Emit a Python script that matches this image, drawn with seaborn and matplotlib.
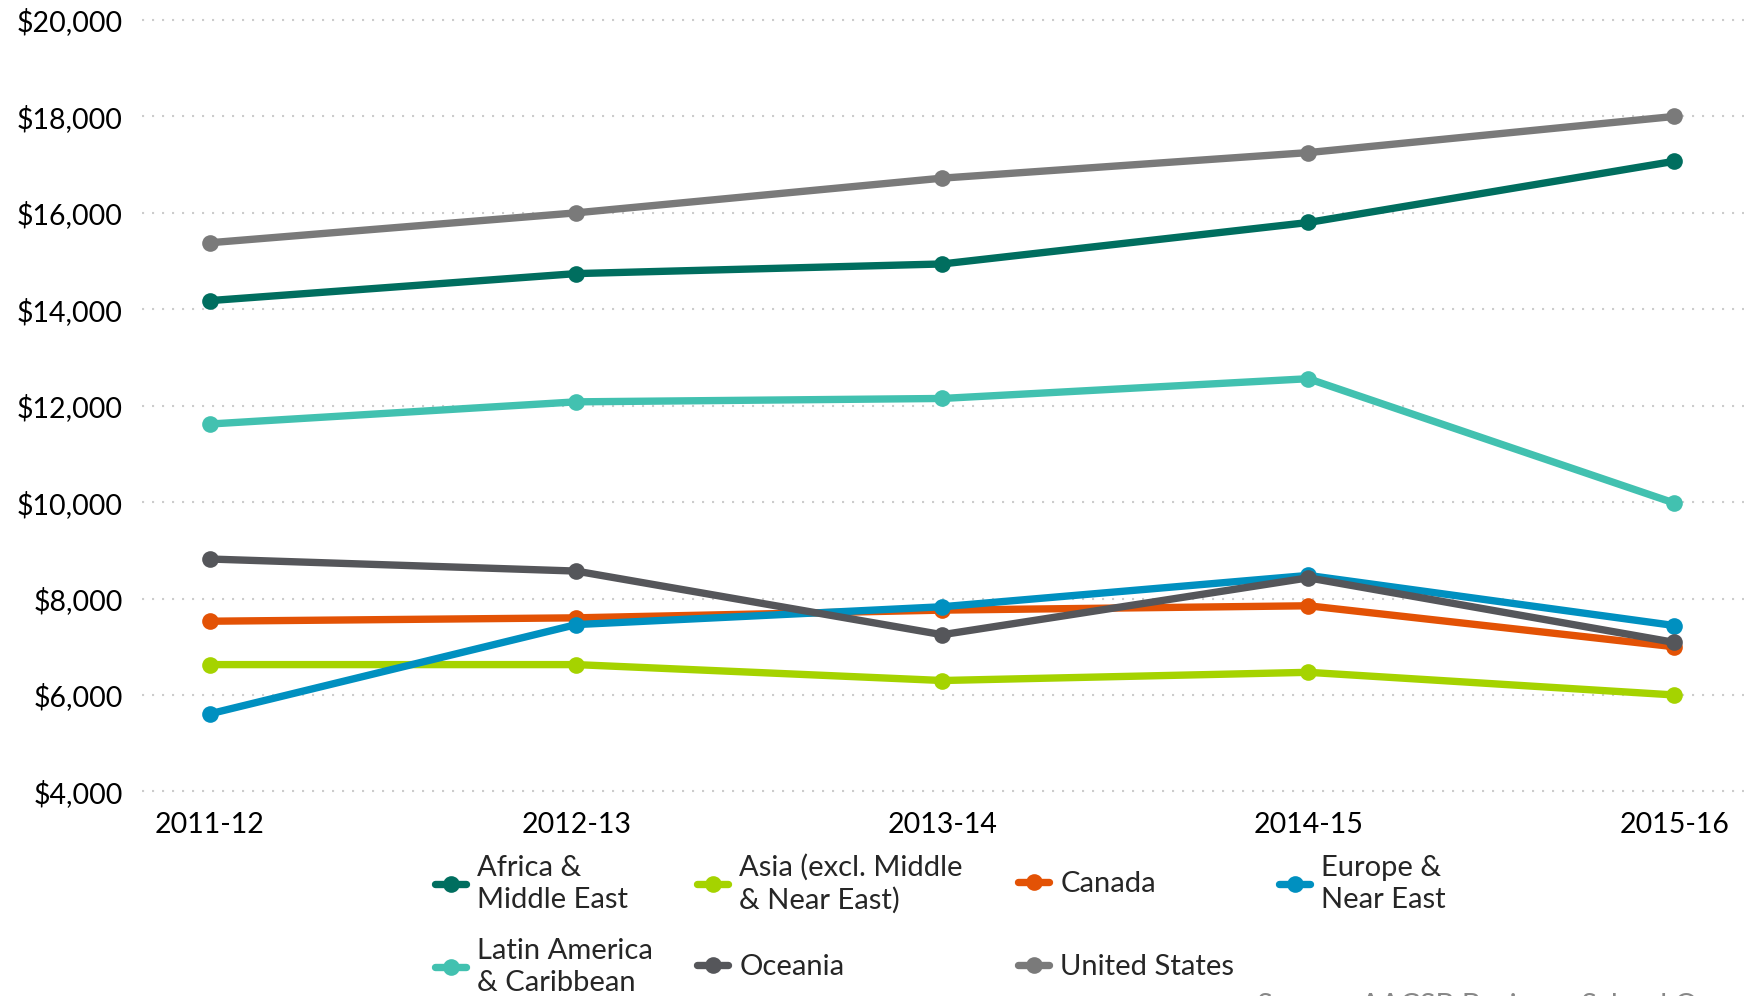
import matplotlib
matplotlib.use("Agg")
import matplotlib.pyplot as plt
from matplotlib.lines import Line2D
from matplotlib.ticker import StrMethodFormatter
import pandas as pd
import seaborn as sns

sns.set_style("white")
plt.rcParams["font.family"] = ["Lato", "DejaVu Sans"]

years = ["2011-12", "2012-13", "2013-14", "2014-15", "2015-16"]

africa = [14180, 14740, 14940, 15800, 17070]
asia = [6630, 6630, 6300, 6470, 6000]
canada = [7530, 7600, 7760, 7850, 7000]
europe = [5610, 7460, 7830, 8480, 7440]
latin = [11620, 12080, 12150, 12560, 9980]
oceania = [8820, 8570, 7250, 8430, 7090]
us = [15380, 16000, 16720, 17250, 18000]

regions = ["Africa & Middle East", "Asia (excl. Middle & Near East)", "Canada",
           "Europe & Near East", "Latin America & Caribbean", "Oceania", "United States"]
labels = ["Africa &\nMiddle East", "Asia (excl. Middle\n& Near East)", "Canada",
          "Europe &\nNear East", "Latin America\n& Caribbean", "Oceania", "United States"]
colors = ["#006e5f", "#a5d300", "#e35205", "#0090c0", "#42c1b0", "#55565a", "#7a7a7a"]
palette = dict(zip(regions, colors))

frames = []
for name, vals in zip(regions, [africa, asia, canada, europe, latin, oceania, us]):
    frames.append(pd.DataFrame({"Year": years, "Tuition": vals, "Region": name}))
data = pd.concat(frames, ignore_index=True)

fig = plt.figure(figsize=(17.44, 9.96), dpi=100)
ax = fig.add_axes([0.0814, 0.2030, 0.9186, 0.7866])

sns.lineplot(
    data=data, x="Year", y="Tuition", hue="Region", hue_order=regions,
    palette=palette, marker="o", markersize=12, markeredgewidth=0,
    linewidth=5.3, sort=False, legend=False, ax=ax
)

ax.set_xlim(-0.186, 4.19)
ax.set_ylim(3950, 20200)
ax.set_yticks(range(4000, 20001, 2000))
ax.yaxis.set_major_formatter(StrMethodFormatter("${x:,.0f}"))
ax.set_xlabel("")
ax.set_ylabel("")
sns.despine(ax=ax, left=True, bottom=True)
ax.grid(False)
ax.yaxis.grid(True, color="#cccccc", linestyle=(0, (1, 3.8)), linewidth=1.5)
ax.tick_params(axis="both", which="major", labelsize=20.5, colors="#333333",
               length=8, width=1.6, pad=5, labelcolor="black")
ax.tick_params(axis="y", length=9)

# legend laid out as a grid, one entry per cell
col_x = [0.2494, 0.3997, 0.5837, 0.7334]
row_y = [0.1124, 0.0291]
for i in range(len(labels)):
    r, c = divmod(i, 4)
    h = Line2D([], [], color=colors[i], linewidth=5.3, marker="o",
               markersize=12, markeredgewidth=0)
    leg = fig.legend(handles=[h], labels=[labels[i]], loc="center left",
                     bbox_to_anchor=(col_x[c], row_y[r]), frameon=False,
                     fontsize=21, handlelength=1.07, handletextpad=0.38,
                     borderpad=0, borderaxespad=0)
    for t in leg.get_texts():
        t.set_linespacing(1.3)

fig.text(0.7208, 0.003, "Source: AACSB Business School Questionnaire",
         color="#888888", fontsize=21, ha="left", va="top")

fig.savefig("out.png", dpi=100)
